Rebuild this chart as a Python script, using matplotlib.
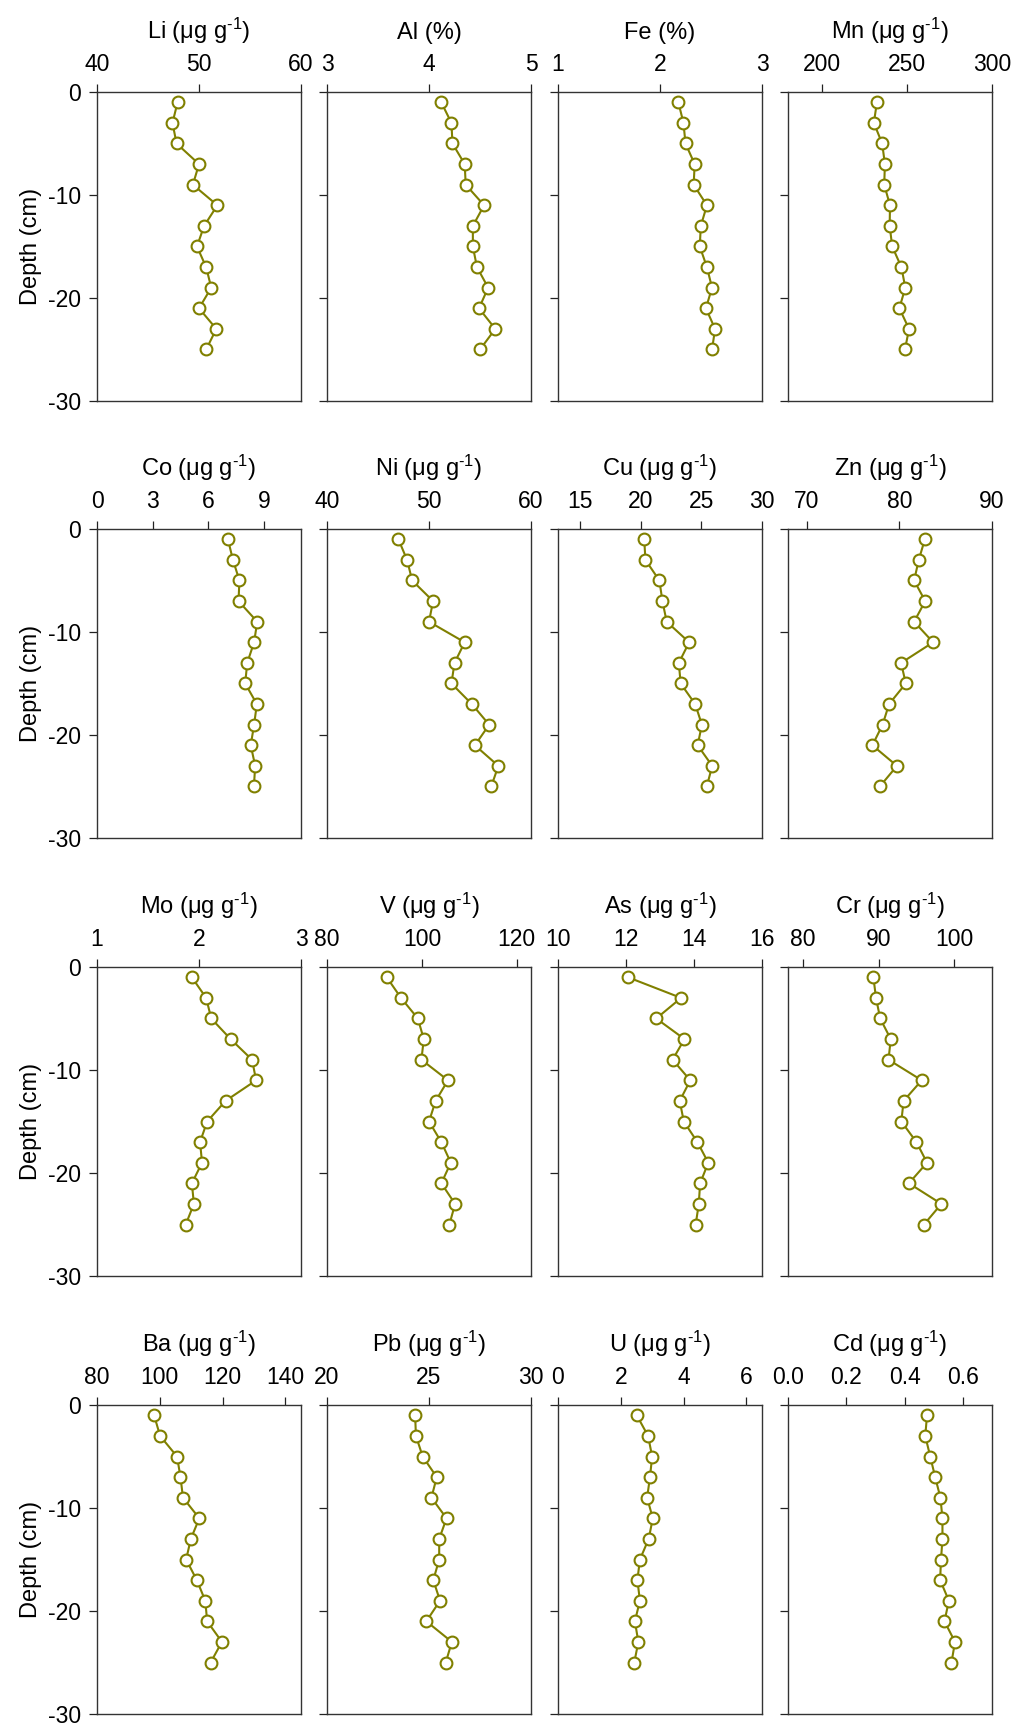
import matplotlib
matplotlib.use("Agg")
import matplotlib.pyplot as plt

plt.rcParams['font.family'] = ['Liberation Sans', 'DejaVu Sans']
plt.rcParams['mathtext.fontset'] = 'custom'
plt.rcParams['mathtext.rm'] = 'Liberation Sans'
plt.rcParams['mathtext.it'] = 'Liberation Sans'
plt.rcParams['axes.unicode_minus'] = False

# depth of each slice (cm)
depth = [-1, -3, -5, -7, -9, -11, -13, -15, -17, -19, -21, -23, -25]

li = [47.9, 47.4, 47.8, 50.0, 49.4, 51.8, 50.5, 49.8, 50.7, 51.2, 50.0, 51.7, 50.7]
al = [4.12, 4.22, 4.23, 4.35, 4.36, 4.54, 4.43, 4.43, 4.47, 4.58, 4.49, 4.65, 4.50]
fe = [2.18, 2.23, 2.25, 2.34, 2.33, 2.46, 2.40, 2.39, 2.46, 2.51, 2.45, 2.54, 2.51]
mn = [232.3, 230.5, 235.4, 237.0, 236.6, 240.0, 239.8, 241.3, 246.7, 249.0, 245.5, 251.2, 248.8]
co = [7.06, 7.33, 7.68, 7.63, 8.64, 8.47, 8.10, 7.99, 8.62, 8.47, 8.29, 8.53, 8.46]
ni = [47.0, 47.85, 48.35, 50.4, 50.0, 53.5, 52.5, 52.2, 54.2, 55.9, 54.5, 56.8, 56.1]
cu = [20.3, 20.4, 21.55, 21.8, 22.15, 24.0, 23.15, 23.3, 24.5, 25.05, 24.7, 25.9, 25.45]
zn = [82.76, 82.1, 81.6, 82.8, 81.6, 83.65, 80.2, 80.7, 78.9, 78.2, 77.1, 79.75, 77.9]
mo = [1.93, 2.07, 2.12, 2.31, 2.52, 2.56, 2.26, 2.08, 2.01, 2.03, 1.93, 1.95, 1.87]
v = [92.6, 95.6, 99.15, 100.4, 99.9, 105.5, 102.9, 101.5, 104.1, 106.1, 104.1, 107.0, 105.8]
as_ = [12.06, 13.62, 12.89, 13.72, 13.37, 13.89, 13.58, 13.70, 14.10, 14.42, 14.18, 14.14, 14.05]
cr = [89.3, 89.65, 90.2, 91.6, 91.3, 95.7, 93.3, 93.0, 95.0, 96.4, 94.0, 98.3, 96.0]
ba = [98.2, 100.1, 105.5, 106.6, 107.4, 112.6, 109.9, 108.4, 111.8, 114.5, 115.1, 119.8, 116.2]
pb = [24.32, 24.36, 24.69, 25.38, 25.12, 25.86, 25.50, 25.50, 25.21, 25.54, 24.87, 26.12, 25.82]
u = [2.51, 2.87, 3.00, 2.93, 2.84, 3.02, 2.89, 2.61, 2.53, 2.61, 2.45, 2.56, 2.43]
cd = [0.477, 0.471, 0.488, 0.505, 0.523, 0.530, 0.530, 0.525, 0.522, 0.552, 0.537, 0.573, 0.561]

ug = ' (μg g$^{\\text{-1}}$)'
titles = ['Li' + ug, 'Al (%)', 'Fe (%)', 'Mn' + ug,
          'Co' + ug, 'Ni' + ug, 'Cu' + ug, 'Zn' + ug,
          'Mo' + ug, 'V' + ug, 'As' + ug, 'Cr' + ug,
          'Ba' + ug, 'Pb' + ug, 'U' + ug, 'Cd' + ug]
series = [li, al, fe, mn, co, ni, cu, zn, mo, v, as_, cr, ba, pb, u, cd]
xlims = [(40, 60), (3, 5), (1, 3), (180, 300),
         (0, 11), (40, 60), (13.2, 30), (68, 90),
         (1, 3), (80, 123), (10, 16), (78, 105),
         (80, 145), (20, 30), (0, 6.5), (0, 0.7)]
xticks = [[40, 50, 60], [3, 4, 5], [1, 2, 3], [200, 250, 300],
          [0, 3, 6, 9], [40, 50, 60], [15, 20, 25, 30], [70, 80, 90],
          [1, 2, 3], [80, 100, 120], [10, 12, 14, 16], [80, 90, 100],
          [80, 100, 120, 140], [20, 25, 30], [0, 2, 4, 6], [0.0, 0.2, 0.4, 0.6]]

W, H = 1016, 1726
fig = plt.figure(figsize=(W / 100, H / 100), dpi=100)
lefts = [97, 327, 558, 788]
tops = [92, 529, 967, 1405]
pw, ph = 204, 309
olive = '#808000'

for i in range(16):
    r, c = divmod(i, 4)
    ax = fig.add_axes([lefts[c] / W, 1 - (tops[r] + ph) / H, pw / W, ph / H])
    ax.plot(series[i], depth, color=olive, lw=1.5, marker='o', ms=8.5,
            mfc='white', mec=olive, mew=1.5)
    ax.set_xlim(*xlims[i])
    ax.set_ylim(-30, 0)
    ax.set_xticks(xticks[i])
    ax.set_yticks([0, -10, -20, -30])
    ax.xaxis.tick_top()
    ax.tick_params(direction='out', length=5.5, width=0.9, labelsize=16.5, pad=6,
                   colors='#222222', labelcolor='black')
    for s in ax.spines.values():
        s.set_linewidth(1.0)
        s.set_color('#333333')
    if c == 0:
        ax.set_ylabel('Depth (cm)', fontsize=17, labelpad=4)
    else:
        ax.set_yticklabels([])
    ax.set_title(titles[i], fontsize=17, pad=10)

fig.savefig('out.png', dpi=100)
